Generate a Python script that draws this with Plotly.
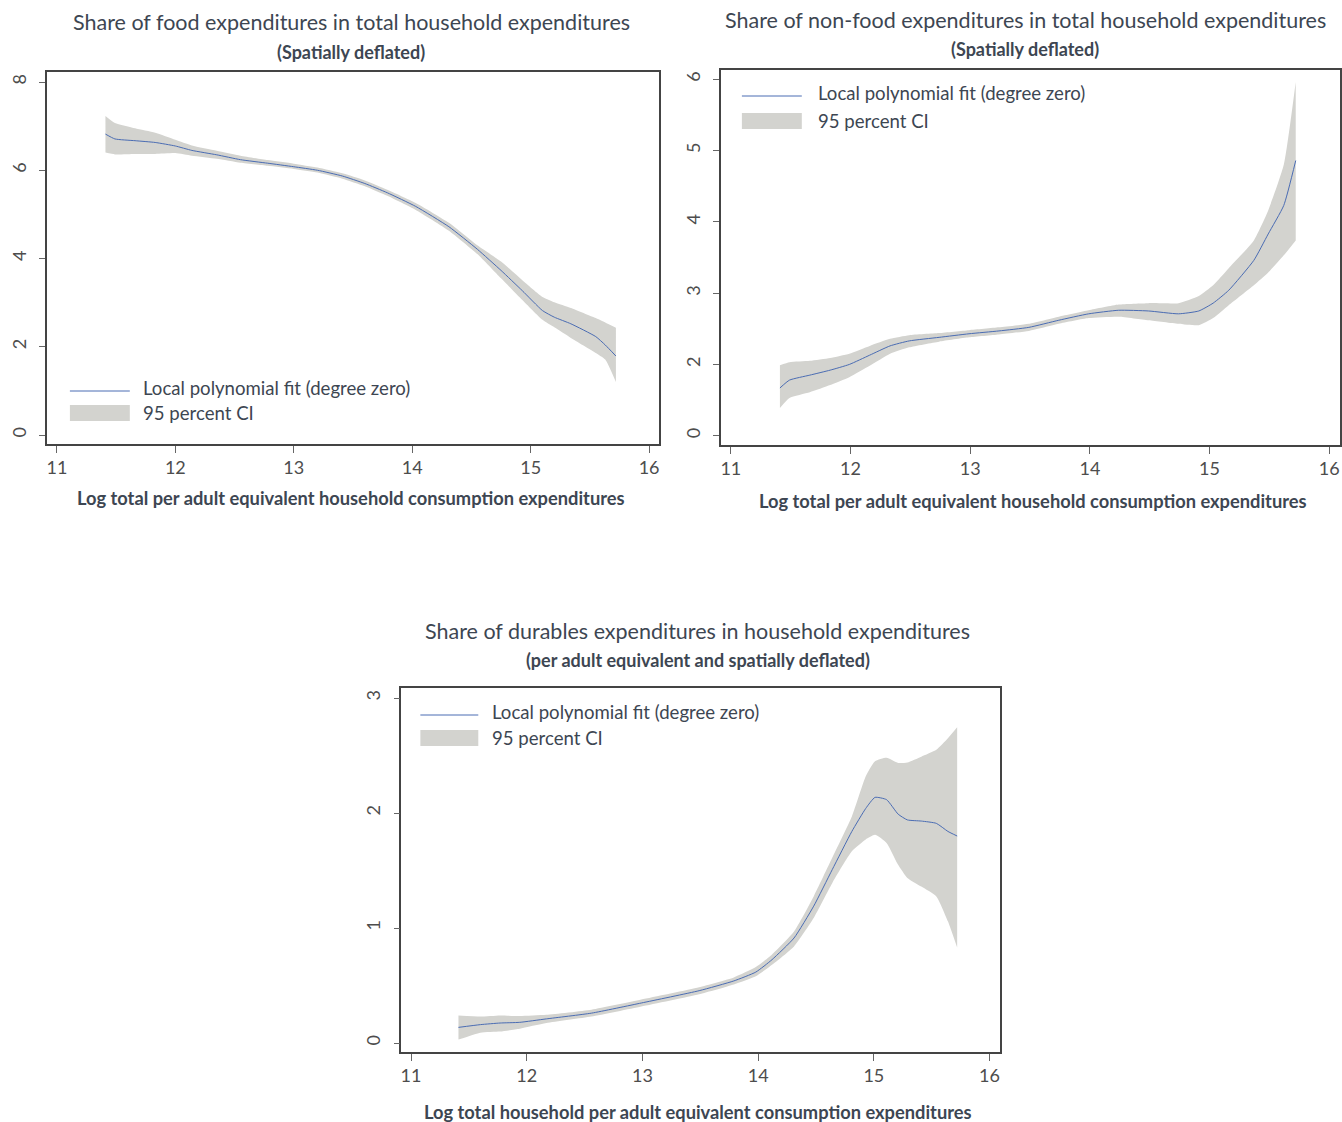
import plotly.graph_objects as go

# ---- Food share (spatially deflated) ----
food_x = [11.41, 11.49, 11.66, 11.83, 12.00, 12.14, 12.35, 12.55, 12.78, 13.00, 13.20, 13.41, 13.60,
          13.79, 14.03, 14.31, 14.55, 14.75, 14.93, 15.10, 15.20, 15.34, 15.55, 15.63, 15.72]
food_fit = [6.82, 6.71, 6.67, 6.63, 6.55, 6.45, 6.35, 6.24, 6.16, 6.08, 6.00, 5.87, 5.70,
            5.49, 5.18, 4.72, 4.21, 3.73, 3.27, 2.82, 2.67, 2.52, 2.23, 2.04, 1.79]
food_lo = [6.40, 6.36, 6.37, 6.37, 6.39, 6.33, 6.26, 6.17, 6.10, 6.03, 5.95, 5.81, 5.64,
           5.42, 5.10, 4.63, 4.10, 3.55, 3.06, 2.61, 2.44, 2.20, 1.86, 1.71, 1.20]
food_hi = [7.23, 7.07, 6.95, 6.85, 6.69, 6.56, 6.44, 6.33, 6.23, 6.15, 6.06, 5.93, 5.77,
           5.56, 5.26, 4.81, 4.30, 3.93, 3.51, 3.13, 3.01, 2.88, 2.65, 2.55, 2.43]

# ---- Non-food share (spatially deflated) ----
nonfood_x = [11.41, 11.49, 11.66, 11.83, 11.99, 12.16, 12.33, 12.49, 12.74, 12.99, 13.24, 13.49, 13.74,
             13.99, 14.24, 14.49, 14.74, 14.91, 15.03, 15.16, 15.37, 15.49, 15.62, 15.72]
nonfood_fit = [1.67, 1.78, 1.85, 1.92, 2.00, 2.13, 2.26, 2.33, 2.38, 2.43, 2.47, 2.52, 2.62,
               2.71, 2.76, 2.75, 2.71, 2.75, 2.86, 3.04, 3.46, 3.83, 4.23, 4.86]
nonfood_lo = [1.39, 1.53, 1.61, 1.71, 1.82, 1.98, 2.15, 2.24, 2.32, 2.38, 2.42, 2.47, 2.57,
              2.65, 2.67, 2.62, 2.57, 2.55, 2.65, 2.83, 3.11, 3.29, 3.53, 3.74]
nonfood_hi = [1.99, 2.03, 2.05, 2.09, 2.15, 2.26, 2.36, 2.41, 2.44, 2.48, 2.52, 2.57, 2.67,
              2.76, 2.84, 2.86, 2.86, 2.96, 3.11, 3.35, 3.74, 4.16, 4.80, 5.96]

# ---- Durables share (per adult equivalent, spatially deflated) ----
dur_x = [11.41, 11.60, 11.77, 11.94, 12.17, 12.56, 12.99, 13.49, 13.79, 13.98, 14.12, 14.31, 14.48,
         14.64, 14.81, 14.93, 15.01, 15.11, 15.21, 15.29, 15.41, 15.54, 15.64, 15.72]
dur_fit = [0.136, 0.16, 0.174, 0.18, 0.21, 0.26, 0.348, 0.455, 0.54, 0.617, 0.725, 0.913, 1.19,
           1.507, 1.84, 2.04, 2.136, 2.116, 1.99, 1.94, 1.93, 1.91, 1.84, 1.80]
dur_lo = [0.03, 0.09, 0.10, 0.125, 0.174, 0.23, 0.318, 0.425, 0.51, 0.58, 0.68, 0.84, 1.087,
          1.39, 1.667, 1.77, 1.81, 1.74, 1.55, 1.435, 1.36, 1.275, 1.058, 0.83]
dur_hi = [0.24, 0.23, 0.24, 0.235, 0.246, 0.29, 0.378, 0.485, 0.57, 0.66, 0.77, 0.97, 1.275,
          1.61, 1.97, 2.32, 2.45, 2.48, 2.435, 2.44, 2.49, 2.55, 2.65, 2.745]

x_ticks = [11, 12, 13, 14, 15, 16]
food_yticks = [0, 2, 4, 6, 8]
nonfood_yticks = [1, 2, 3, 4, 5, 6]
nonfood_ytext = ["0", "2", "3", "4", "5", "6"]
dur_yticks = [0, 1, 2, 3]

fit_name = "Local polynomial fit (degree zero)"
ci_name = "95 percent CI"

W, H = 1342, 1122
FONT = "Lato"
TXT = "#3d4652"
TICK = "#4d4d4d"
LINE_C = "#4a6cb3"
FILL_C = "#d3d3cf"
BOX_C = "#444444"


def px(x):
    return x / W


def py(y):
    return 1 - y / H


fig = go.Figure()

panels = [
    dict(x=food_x, fit=food_fit, lo=food_lo, hi=food_hi, ax="", dom_x=(46, 659), dom_y=(72, 444),
         xr=[10.916, 16.084], yr=[-0.204, 8.227], yt=food_yticks, ytt=[str(v) for v in food_yticks],
         title="Share of food expenditures in total household expenditures", tcx=351, ty=22,
         sub="(Spatially deflated)", sy=52,
         xtitle="Log total per adult equivalent household consumption expenditures", xtx=351, xty=498,
         leg=(69, 129, 140, 391, 413)),
    dict(x=nonfood_x, fit=nonfood_fit, lo=nonfood_lo, hi=nonfood_hi, ax="2", dom_x=(721, 1341), dom_y=(70, 445),
         xr=[10.917, 16.09], yr=[0.87, 6.13], yt=nonfood_yticks, ytt=nonfood_ytext,
         title="Share of non-food expenditures in total household expenditures", tcx=1026, ty=20,
         sub="(Spatially deflated)", sy=49,
         xtitle="Log total per adult equivalent household consumption expenditures", xtx=1034, xty=501,
         leg=(742, 802, 816, 96, 121)),
    dict(x=dur_x, fit=dur_fit, lo=dur_lo, hi=dur_hi, ax="3", dom_x=(401, 1000), dom_y=(688, 1052),
         xr=[10.917, 16.086], yr=[-0.078, 3.087], yt=dur_yticks, ytt=[str(v) for v in dur_yticks],
         title="Share of durables expenditures in household expenditures", tcx=698, ty=631,
         sub="(per adult equivalent and spatially deflated)", sy=660,
         xtitle="Log total household per adult equivalent consumption expenditures", xtx=698, xty=1112,
         leg=(420, 478, 490, 715, 738)),
]

shapes = []
annotations = []
SMOOTH = dict(shape="spline", smoothing=0.5)

for p in panels:
    xa, ya = "x" + p["ax"], "y" + p["ax"]
    # confidence band: lower edge, then upper edge filled down to it
    fig.add_trace(go.Scatter(x=p["x"], y=p["lo"], mode="lines", line=dict(width=0, color=FILL_C, **SMOOTH),
                             xaxis=xa, yaxis=ya, showlegend=False, hoverinfo="skip"))
    fig.add_trace(go.Scatter(x=p["x"], y=p["hi"], mode="lines", line=dict(width=0, color=FILL_C, **SMOOTH),
                             fill="tonexty", fillcolor=FILL_C, xaxis=xa, yaxis=ya,
                             name=ci_name, showlegend=False))
    fig.add_trace(go.Scatter(x=p["x"], y=p["fit"], mode="lines", line=dict(width=1, color=LINE_C, **SMOOTH),
                             xaxis=xa, yaxis=ya, name=fit_name, showlegend=False))

    xkey = "xaxis" + p["ax"]
    ykey = "yaxis" + p["ax"]
    fig.layout[xkey] = dict(
        domain=[px(p["dom_x"][0]), px(p["dom_x"][1])], range=p["xr"], anchor=ya,
        tickvals=x_ticks, ticks="outside", ticklen=7, tickwidth=1, tickcolor="#666666",
        showline=True, mirror=True, linecolor=BOX_C, linewidth=1.5, showgrid=False, zeroline=False,
        tickfont=dict(family=FONT, size=18, color=TICK))
    fig.layout[ykey] = dict(
        domain=[py(p["dom_y"][1]), py(p["dom_y"][0])], range=p["yr"], anchor=xa,
        tickvals=p["yt"], ticktext=p["ytt"], tickangle=-90, ticks="outside", ticklen=6, tickwidth=1,
        tickcolor="#666666", showline=True, mirror=True, linecolor=BOX_C, linewidth=1.5,
        ticklabelstandoff=6,
        showgrid=False, zeroline=False, tickfont=dict(family=FONT, size=18, color=TICK))

    annotations.append(dict(text=p["title"], x=px(p["tcx"]), y=py(p["ty"]), xref="paper", yref="paper",
                            xanchor="center", yanchor="middle", showarrow=False,
                            font=dict(family=FONT, size=21.5, color=TXT)))
    annotations.append(dict(text="<b>" + p["sub"] + "</b>", x=px(p["tcx"]), y=py(p["sy"]), xref="paper",
                            yref="paper", xanchor="center", yanchor="middle", showarrow=False,
                            font=dict(family=FONT, size=18, color=TXT)))
    annotations.append(dict(text="<b>" + p["xtitle"] + "</b>", x=px(p["xtx"]), y=py(p["xty"]), xref="paper",
                            yref="paper", xanchor="center", yanchor="middle", showarrow=False,
                            font=dict(family=FONT, size=18.3, color=TXT)))

    # legend keys inside each panel
    k0, k1, tx, ly, cy = p["leg"]
    shapes.append(dict(type="line", xref="paper", yref="paper", x0=px(k0), x1=px(k1), y0=py(ly), y1=py(ly),
                       line=dict(color=LINE_C, width=1)))
    shapes.append(dict(type="rect", xref="paper", yref="paper", x0=px(k0), x1=px(k1), y0=py(cy - 8),
                       y1=py(cy + 8), fillcolor=FILL_C, line=dict(width=0)))
    annotations.append(dict(text=fit_name, x=px(tx), y=py(ly - 3), xref="paper", yref="paper",
                            xanchor="left", yanchor="middle", showarrow=False,
                            font=dict(family=FONT, size=18.6, color=TXT)))
    annotations.append(dict(text=ci_name, x=px(tx), y=py(cy), xref="paper", yref="paper",
                            xanchor="left", yanchor="middle", showarrow=False,
                            font=dict(family=FONT, size=18.6, color=TXT)))

fig.update_layout(width=W, height=H, margin=dict(l=0, r=0, t=0, b=0), plot_bgcolor="white",
                  paper_bgcolor="white", showlegend=False, shapes=shapes, annotations=annotations)

fig.write_html("out.html")
